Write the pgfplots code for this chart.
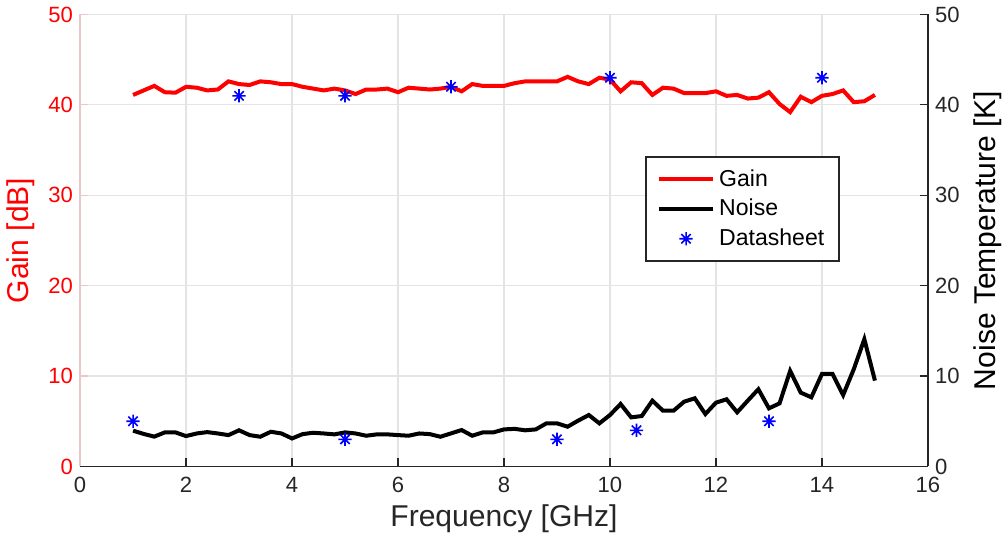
\documentclass[border=0pt]{standalone}
\usepackage{fontspec}
\setmainfont{Liberation Sans}
\usepackage{pgfplots}
\usepackage{pgfplotstable}
\pgfplotsset{compat=1.18}

\definecolor{axgray}{RGB}{38,38,38}
\definecolor{gridgray}{RGB}{228,228,228}
\definecolor{pinkline}{RGB}{235,200,200}

% eight-armed asterisk, as MATLAB draws '*'
\pgfdeclareplotmark{star8}{%
  \pgfpathmoveto{\pgfqpoint{0pt}{\pgfplotmarksize}}%
  \pgfpathlineto{\pgfqpoint{0pt}{-\pgfplotmarksize}}%
  \pgfpathmoveto{\pgfqpoint{\pgfplotmarksize}{0pt}}%
  \pgfpathlineto{\pgfqpoint{-\pgfplotmarksize}{0pt}}%
  \pgfpathmoveto{\pgfqpoint{0.707\pgfplotmarksize}{0.707\pgfplotmarksize}}%
  \pgfpathlineto{\pgfqpoint{-0.707\pgfplotmarksize}{-0.707\pgfplotmarksize}}%
  \pgfpathmoveto{\pgfqpoint{0.707\pgfplotmarksize}{-0.707\pgfplotmarksize}}%
  \pgfpathlineto{\pgfqpoint{-0.707\pgfplotmarksize}{0.707\pgfplotmarksize}}%
  \pgfusepathqstroke}

\pgfplotsset{
    linelegend/.style={legend image code/.code={\draw[##1] (0cm,0cm) -- (0.95cm,0cm);}},
    marklegend/.style={legend image code/.code={\draw[mark repeat=2,mark phase=2,##1]
        plot coordinates {(0cm,0cm)(0.475cm,0cm)(0.95cm,0cm)};}},
}

% measured gain [dB] and noise temperature [K]
\pgfplotstableread{
f    gain  noise
1.0  41.1  3.96
1.2  41.6  3.60
1.4  42.1  3.30
1.6  41.4  3.77
1.8  41.35 3.77
2.0  42.0  3.36
2.2  41.9  3.65
2.4  41.6  3.80
2.6  41.7  3.65
2.8  42.6  3.47
3.0  42.3  4.00
3.2  42.2  3.47
3.4  42.6  3.29
3.6  42.5  3.84
3.8  42.3  3.65
4.0  42.3  3.10
4.2  42.0  3.58
4.4  41.8  3.73
4.6  41.6  3.65
4.8  41.8  3.55
5.0  41.6  3.77
5.2  41.2  3.65
5.4  41.7  3.40
5.6  41.7  3.55
5.8  41.8  3.55
6.0  41.4  3.47
6.2  41.9  3.40
6.4  41.8  3.65
6.6  41.7  3.58
6.8  41.8  3.29
7.0  42.0  3.66
7.2  41.5  4.03
7.4  42.3  3.40
7.6  42.1  3.77
7.8  42.1  3.77
8.0  42.1  4.10
8.2  42.4  4.16
8.4  42.6  4.00
8.6  42.6  4.10
8.8  42.6  4.77
9.0  42.6  4.77
9.2  43.1  4.40
9.4  42.6  5.07
9.6  42.3  5.69
9.8  43.0  4.77
10.0 42.8  5.69
10.2 41.5  6.91
10.4 42.5  5.43
10.6 42.4  5.58
10.8 41.1  7.28
11.0 41.9  6.17
11.2 41.8  6.17
11.4 41.3  7.17
11.6 41.3  7.54
11.8 41.3  5.80
12.0 41.5  7.06
12.2 41.0  7.43
12.4 41.1  5.99
12.6 40.7  7.28
12.8 40.8  8.54
13.0 41.4  6.43
13.2 40.1  6.98
13.4 39.2  10.57
13.6 40.9  8.17
13.8 40.3  7.65
14.0 41.0  10.23
14.2 41.2  10.23
14.4 41.6  7.90
14.6 40.3  10.75
14.8 40.4  14.08
15.0 41.1  9.50
}\meas

% datasheet values
\pgfplotstableread{
f    val
1    5
3    41
5    41
5    3
7    42
9    3
10   43
10.5 4
13   5
14   43
}\dsheet

\newcommand{\tickfont}{\fontsize{11}{13}\selectfont}
\newcommand{\labfont}{\fontsize{15}{18}\selectfont}

\begin{document}
\begin{tikzpicture}
\begin{axis}[
    scale only axis,
    width=423pt, height=225.5pt,
    xmin=0, xmax=16, ymin=0, ymax=50,
    axis x line*=bottom, axis y line*=left,
    xtick={0,2,...,16}, ytick={0,10,...,50},
    tick align=inside, major tick length=4pt,
    grid=major, grid style={gridgray, line width=0.6pt},
    x axis line style={axgray, line width=0.6pt},
    y axis line style={pinkline, line width=0.6pt},
    xtick style={axgray, line width=0.6pt},
    ytick style={pinkline, line width=0.6pt},
    /pgf/number format/assume math mode=true,
    ticklabel style={font=\tickfont},
    xticklabel style={text=axgray, yshift=-2pt},
    yticklabel style={text=red},
    xlabel={Frequency [GHz]}, ylabel={Gain [dB]},
    xlabel style={font=\labfont, text=axgray, yshift=1pt},
    ylabel style={font=\labfont, text=red},
    legend style={at={(axis cs:10.66,34.3)}, anchor=north west,
        draw=axgray, line width=1pt, font=\fontsize{11.5}{14}\selectfont,
        inner xsep=5.5pt, inner ysep=4pt, row sep=1pt},
    legend cell align=left,
]
\addplot[red, line width=2pt, linelegend]
    table[x=f, y=gain] {\meas};
\addlegendentry{Gain}
\addplot[black, line width=2pt, linelegend]
    table[x=f, y=noise] {\meas};
\addlegendentry{Noise}
\addplot[blue, only marks, mark=star8, mark size=3.3pt,
    mark options={line width=0.8pt}, marklegend]
    table[x=f, y=val] {\dsheet};
\addlegendentry{Datasheet}
\end{axis}

\begin{axis}[
    scale only axis,
    width=423pt, height=225.5pt,
    xmin=0, xmax=16, ymin=0, ymax=50,
    axis x line=none, axis y line*=right,
    ytick={0,10,...,50},
    tick align=inside, major tick length=4pt,
    y axis line style={axgray, line width=0.6pt},
    ytick style={axgray, line width=0.6pt},
    /pgf/number format/assume math mode=true,
    yticklabel style={font=\tickfont, text=axgray},
    ylabel={Noise Temperature [K]},
    ylabel style={font=\labfont, text=black},
]
\end{axis}
\end{tikzpicture}
\end{document}
